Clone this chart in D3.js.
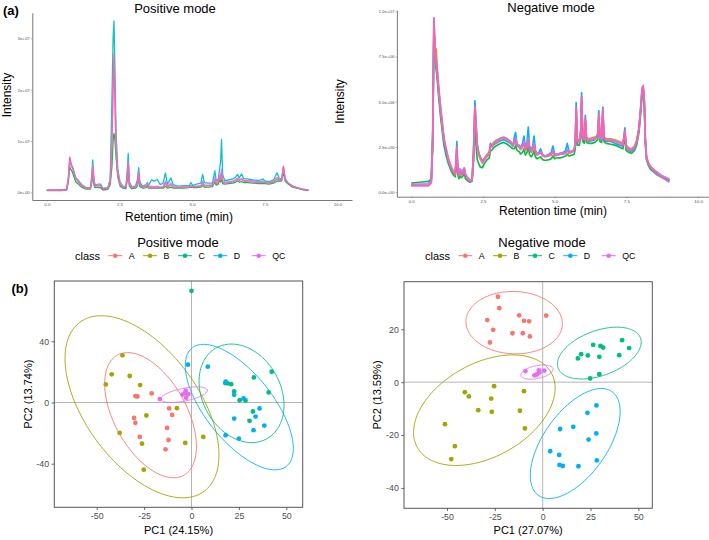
<!DOCTYPE html>
<html><head><meta charset="utf-8">
<script src="https://cdn.jsdelivr.net/npm/d3@7"></script>
<style>body{margin:0;background:#fff}svg{display:block;font-family:"Liberation Sans",Arial,Helvetica,sans-serif}</style>
</head><body><svg id="c" width="709" height="540"></svg>
<script>
// ---------- (a) chromatograms: intensity in units of 1e6 ----------
const posTime = [0,0.5,0.68,0.74,0.79,0.82,0.86,0.9,0.95,1.0,
 1.1,1.2,1.35,1.5,1.55,1.58,1.62,1.66,1.72,1.78,
 1.85,1.92,2.0,2.1,2.18,2.24,2.28,2.31,2.34,2.38,
 2.44,2.52,2.62,2.72,2.77,2.8,2.84,2.92,3.05,3.12,
 3.16,3.2,3.3,3.42,3.46,3.5,3.6,3.7,3.8,3.9,
 4.0,4.08,4.15,4.27,4.35,4.5,4.7,4.9,4.96,5.02,
 5.15,5.3,5.36,5.42,5.55,5.7,5.78,5.83,5.9,5.94,
 5.98,6.01,6.05,6.12,6.25,6.4,6.5,6.56,6.62,6.7,
 6.78,6.9,7.1,7.3,7.44,7.5,7.65,7.8,7.92,8.0,
 8.08,8.14,8.2,8.3,8.45,8.6,8.8,9.0];
const posGreen = [0.35,0.35,0.45,2.0,5.0,4.5,4.2,3.6,2.8,2.0,
 1.5,1.0,0.6,0.6,2.0,3.8,1.4,0.9,1.0,0.9,
 0.9,0.5,0.5,0.6,1.5,5.0,10.0,11.5,10.5,7.0,
 3.0,1.2,0.8,0.7,2.5,4.5,1.2,0.7,0.8,1.2,
 3.0,1.1,0.8,0.9,1.2,0.8,0.8,0.8,0.8,0.8,
 0.8,1.2,0.8,1.0,0.8,0.8,0.8,0.9,1.0,0.9,
 0.9,1.0,1.3,1.0,1.0,1.1,2.0,1.4,1.6,2.4,
 2.0,2.6,1.7,1.6,1.7,1.8,2.0,2.2,2.0,2.1,
 1.9,1.9,1.8,1.7,1.7,1.7,1.6,1.8,2.2,2.2,
 2.2,4.0,2.2,1.6,1.0,0.8,0.5,0.35];
const posCyan = [0.45,0.45,0.6,2.8,6.5,5.5,5.1,4.6,3.6,2.8,
 2.2,1.5,0.9,0.9,3.5,6.3,2.6,1.4,1.5,1.6,
 1.6,0.8,0.8,0.9,2.5,18.0,30.0,33.4,25.0,12.0,
 4.5,2.0,1.2,1.1,4.5,7.6,2.0,1.1,1.2,2.5,
 4.8,2.0,1.2,1.5,1.9,1.3,2.4,2.2,2.5,1.5,
 1.8,3.8,1.6,2.8,1.5,1.2,1.3,1.3,1.9,1.3,
 1.6,1.8,3.5,1.9,1.8,1.8,4.2,2.2,2.6,4.3,
 6.0,10.3,3.5,2.3,2.4,2.6,3.0,3.5,2.8,3.6,
 2.6,2.6,2.4,2.3,2.6,2.2,2.1,2.4,3.8,2.7,
 2.6,4.8,2.5,1.8,1.2,0.9,0.6,0.4];
const posViolet = [0.42,0.42,0.5,2.6,6.5,5.8,5.2,4.8,3.6,2.8,
 2.1,1.4,0.9,0.8,2.8,5.3,2.2,1.3,1.5,1.5,
 1.4,0.7,0.7,0.9,2.2,10.0,20.0,24.0,19.0,9.0,
 3.8,1.7,1.1,1.0,3.5,6.0,1.6,1.0,1.1,1.8,
 4.0,1.6,1.1,1.2,1.7,1.1,1.2,1.1,1.2,1.0,
 1.1,2.2,1.2,1.8,1.1,1.0,1.0,1.1,1.3,1.1,
 1.2,1.3,2.2,1.4,1.4,1.5,3.0,1.8,2.3,3.4,
 3.0,4.5,2.4,2.0,2.1,2.2,2.5,2.8,2.5,2.7,
 2.3,2.3,2.2,2.1,2.2,2.0,1.9,2.2,2.9,2.5,
 2.5,5.0,2.6,1.8,1.2,0.9,0.6,0.4];
const posPink = [0.40,0.40,0.50,2.5,6.9,6.0,5.0,4.6,3.4,2.6,
 1.9,1.2,0.8,0.8,2.5,5.0,2.0,1.2,1.4,1.2,
 1.3,0.7,0.7,0.8,2.0,9.0,22.0,27.0,20.0,9.0,
 3.5,1.5,1.0,0.9,3.0,5.6,1.5,0.9,1.0,1.5,
 3.8,1.5,1.0,1.1,1.6,1.0,0.9,0.9,0.9,0.9,
 1.0,1.8,1.0,1.5,1.0,0.9,1.0,1.0,1.2,1.0,
 1.1,1.2,1.8,1.2,1.3,1.3,2.5,1.6,2.0,3.0,
 2.5,3.7,2.0,1.8,1.9,2.0,2.3,2.6,2.3,2.5,
 2.2,2.1,2.0,1.9,2.0,1.9,1.8,2.0,2.6,2.4,
 2.4,5.1,2.6,1.8,1.2,0.9,0.6,0.4];

const negTime = [0,0.3,0.6,0.7,0.75,0.79,0.83,0.87,0.91,0.96,
 1.02,1.08,1.14,1.22,1.29,1.37,1.45,1.53,1.57,1.59,
 1.62,1.66,1.70,1.74,1.78,1.85,1.89,1.95,2.05,2.12,
 2.17,2.22,2.26,2.30,2.35,2.40,2.48,2.56,2.65,2.72,
 2.76,2.80,2.9,3.0,3.12,3.23,3.35,3.46,3.55,3.60,
 3.64,3.69,3.76,3.81,3.88,3.93,3.98,4.04,4.08,4.12,
 4.18,4.24,4.28,4.33,4.38,4.45,4.51,4.58,4.68,4.80,
 4.88,4.94,5.0,5.1,5.21,5.3,5.38,5.44,5.5,5.6,
 5.68,5.72,5.75,5.79,5.86,5.91,5.94,5.98,6.03,6.07,
 6.11,6.2,6.3,6.4,6.5,6.54,6.58,6.64,6.68,6.72,
 6.8,6.95,7.1,7.25,7.38,7.42,7.45,7.49,7.58,7.68,
 7.78,7.86,7.94,8.0,8.05,8.09,8.13,8.16,8.2,8.26,
 8.35,8.47,8.58,8.7,8.81,8.9,9.0];
const negOrange = [0.4,0.4,0.45,0.6,3.0,9.0,8.0,7.9,6.8,5.8,
 4.8,3.9,3.0,2.3,1.9,1.5,1.2,1.0,1.7,2.4,
 1.2,0.9,1.1,1.0,1.0,1.2,0.9,0.8,0.6,0.65,
 1.9,4.4,3.4,2.6,2.2,2.0,1.7,1.9,2.1,2.2,
 2.6,2.6,2.8,2.9,3.0,3.05,2.95,2.8,2.65,2.7,
 2.9,2.6,2.55,2.4,2.5,2.7,2.35,2.5,2.9,2.4,
 2.25,2.4,2.6,2.2,2.1,2.15,2.2,2.05,2.0,2.05,
 2.1,2.25,2.05,2.1,2.15,2.15,2.2,2.3,2.2,2.25,
 2.35,2.6,4.5,2.85,2.85,3.2,5.0,3.0,3.0,3.9,
 3.0,2.95,3.0,3.05,3.1,4.2,3.05,3.0,4.4,3.05,
 2.95,2.95,2.9,2.8,2.7,3.0,3.3,2.6,2.45,2.4,
 2.55,2.85,3.5,4.5,5.6,5.7,4.9,3.0,2.0,1.65,
 1.4,1.2,1.05,0.9,0.8,0.75,0.65];
const negGreen = [0.5,0.55,0.6,0.7,2.5,8.8,7.6,6.8,6.2,5.2,
 4.2,3.4,2.6,2.0,1.6,1.25,1.0,0.85,1.5,2.0,
 1.0,0.75,0.9,0.8,0.85,1.0,0.75,0.65,0.55,0.6,
 1.6,3.8,2.6,1.8,1.6,1.4,1.35,1.6,1.8,1.9,
 2.3,2.3,2.5,2.6,2.7,2.75,2.65,2.5,2.4,2.4,
 2.6,2.3,2.25,2.1,2.2,2.4,2.05,2.2,2.6,2.1,
 1.95,2.1,2.3,1.95,1.85,1.9,1.95,1.8,1.75,1.8,
 1.85,2.0,1.85,1.9,1.9,1.95,2.0,2.1,2.0,2.05,
 2.1,2.4,4.2,2.6,2.6,3.0,4.8,2.8,2.7,3.8,
 2.75,2.7,2.7,2.75,2.9,4.0,2.8,2.75,4.2,2.8,
 2.7,2.65,2.6,2.5,2.4,2.8,3.1,2.3,2.2,2.15,
 2.3,2.6,3.3,4.4,5.4,5.5,4.7,2.8,1.8,1.5,
 1.25,1.1,0.95,0.85,0.75,0.7,0.6];
const negBlue = [0.4,0.4,0.42,0.8,3.5,9.6,7.5,7.0,6.3,5.4,
 4.5,3.6,2.9,2.2,1.8,1.4,1.15,1.0,2.0,2.8,
 1.4,1.0,1.25,1.0,1.1,1.34,1.0,0.8,0.65,0.7,
 2.2,5.05,3.9,2.7,2.2,1.9,1.7,1.85,2.0,2.1,
 2.7,2.5,2.65,2.75,2.85,2.9,2.8,2.7,2.55,3.1,
 3.3,2.6,2.6,2.45,2.7,3.1,2.4,2.8,3.6,2.6,
 2.3,2.6,3.1,2.35,2.1,2.2,2.4,2.05,2.0,2.1,
 2.2,2.55,2.1,2.1,2.15,2.2,2.3,2.7,2.25,2.25,
 2.35,2.8,4.95,2.9,2.8,3.5,5.5,3.0,2.95,4.25,
 2.9,2.8,2.85,2.9,3.2,4.5,2.95,2.9,4.7,2.9,
 2.8,2.8,2.7,2.6,2.55,3.2,3.55,2.5,2.3,2.25,
 2.4,2.75,3.6,4.7,5.7,5.6,4.6,2.8,1.9,1.6,
 1.4,1.2,1.1,0.95,0.85,0.8,0.7];
const negViolet = [0.45,0.45,0.45,0.6,3.0,9.3,7.8,7.3,6.6,5.6,
 4.7,3.8,3.0,2.4,1.9,1.5,1.2,1.0,1.8,2.5,
 1.3,1.0,1.3,1.2,1.2,1.35,1.0,0.85,0.65,0.7,
 2.0,4.6,3.5,2.5,2.1,1.9,1.65,1.85,2.05,2.15,
 2.6,2.5,2.75,2.85,3.0,3.0,2.95,2.8,2.65,2.8,
 3.0,2.6,2.55,2.4,2.55,2.8,2.35,2.6,3.0,2.45,
 2.25,2.45,2.7,2.25,2.1,2.15,2.25,2.05,2.0,2.05,
 2.1,2.3,2.05,2.1,2.15,2.15,2.2,2.35,2.2,2.25,
 2.35,2.6,4.6,2.85,2.8,3.3,5.2,3.0,2.95,4.0,
 2.95,2.9,2.95,3.0,3.1,4.3,3.0,2.95,4.5,3.0,
 2.9,2.9,2.85,2.75,2.65,3.0,3.35,2.55,2.4,2.35,
 2.5,2.85,3.5,4.6,5.7,5.8,5.0,3.0,2.0,1.65,
 1.4,1.25,1.1,0.95,0.85,0.8,0.7];
const negPink = [0.35,0.35,0.35,0.5,3.0,9.65,8.0,7.2,6.5,5.6,
 4.6,3.7,2.9,2.3,1.8,1.4,1.15,0.95,1.8,2.5,
 1.2,0.9,1.15,0.95,1.0,1.25,0.9,0.75,0.6,0.65,
 2.0,4.75,3.6,2.6,2.1,1.85,1.6,1.8,2.0,2.1,
 2.6,2.5,2.7,2.8,2.95,3.0,2.9,2.75,2.6,2.7,
 2.9,2.55,2.5,2.35,2.5,2.7,2.3,2.5,2.9,2.4,
 2.2,2.4,2.65,2.2,2.05,2.1,2.2,2.0,1.95,2.0,
 2.05,2.25,2.0,2.05,2.1,2.1,2.15,2.3,2.15,2.2,
 2.3,2.6,4.7,2.8,2.75,3.2,5.3,3.0,2.9,4.1,
 2.9,2.85,2.9,2.95,3.1,4.3,3.0,2.9,4.6,3.0,
 2.85,2.85,2.8,2.7,2.6,3.0,3.4,2.5,2.35,2.3,
 2.45,2.8,3.5,4.6,5.8,5.9,5.0,3.0,1.9,1.6,
 1.35,1.15,1.0,0.85,0.75,0.65,0.55];

const rtTicks = [0, 2.5, 5, 7.5, 10];
const rtTickLabels = ["0.0", "2.5", "5.0", "7.5", "10.0"];
const posIntTicks = [0, 10, 20, 30];
const posIntTickLabels = ["0e+00", "1e+07", "2e+07", "3e+07"];
const negIntTicks = [0, 2.5, 5, 7.5, 10];
const negIntTickLabels = ["0.0e+00", "2.5e+06", "5.0e+06", "7.5e+06", "1.0e+07"];

// ---------- (b) PCA scores ----------
const classes = ["A", "B", "C", "D", "QC"];
const classColors = ["#F8766D", "#A3A500", "#00BF7D", "#00B0F6", "#E76BF3"];

const posA = [[-21.0,5.9],[-29.6,4.2],[-28.5,3.9],[-11.8,-3.9],[-10.2,-8.1],[-30.3,-10.1],[-29.6,-13.3],[-12.9,-16.6],[-27.3,-22.5],[-12.1,-24.5],[-13.7,-30.6]];
const posB = [[-36.4,30.8],[-42.1,18.4],[-32.6,17.3],[-45.2,11.8],[-27.1,11.4],[-7.7,-3.7],[-23.8,-8.5],[-37.9,-19.9],[-26.1,-26.9],[-3.3,-26.4],[6.2,-22.5],[-25.2,-43.9]];
const posC = [[0,73.0],[42.3,20.1],[32.9,16.4],[40.7,6.6],[17.8,12.7],[19.0,12.5],[20.9,12.0],[22.5,7.2],[25.4,1.5],[28.5,1.3],[32.4,-5.9],[30.6,-12.0]];
const posD = [[-1.9,24.7],[8.6,23.4],[18.1,13.6],[22.5,5.0],[27.5,2.6],[35.9,-3.9],[33.8,-9.2],[22.5,-10.5],[38.4,-15.1],[32.7,-18.1],[18.0,-21.4],[25.0,-23.6]];
const posQC = [[-16.7,2.2],[-4.8,5.2],[-3.0,7.7],[-1.6,5.5],[-2.8,3.1],[-3.5,6.0]];

const negA = [[-23.4,32.3],[-22.7,28.0],[-29.0,23.5],[-12.3,25.3],[-9.8,23.2],[-7.1,23.0],[1.8,25.2],[-25.9,19.8],[-15.8,18.5],[-10.4,18.5],[-6.7,17.3],[-27.6,15.0]];
const negB = [[-25.4,-1.5],[-40.7,-3.8],[-38.6,-5.4],[-26.9,-6.2],[-9.8,-3.4],[-33.7,-10.6],[-26.6,-11.2],[-11.9,-10.8],[-9.3,-17.5],[-51.1,-15.9],[-45.9,-24.2],[-47.8,-29.1]];
const negC = [[41.5,15.9],[45.2,12.9],[26.4,14.1],[30.2,13.7],[31.6,13.1],[20.1,10.6],[23.6,10.1],[18.4,9.0],[29.6,9.6],[40.0,10.2],[24.8,1.4],[29.6,3.0]];
const negD = [[28.1,-8.8],[23.4,-11.6],[9.1,-17.7],[16.0,-16.9],[28.0,-19.4],[24.0,-21.7],[3.9,-26.1],[8.6,-27.5],[8.8,-31.3],[10.5,-31.7],[18.7,-31.8],[28.3,-29.6]];
const negQC = [[-9.0,4.2],[-2.0,4.5],[0.8,4.4],[-4.3,2.6],[-3.1,2.9],[-1.7,3.7]];

// 95% ellipses per class: centre, half-width, half-height (data units), coupling
const posEll = [[-21.6,-8.3,24.2,40.9,-0.50],[-26.1,-2.8,40.6,59.5,-0.53],[26.4,6.0,22.4,32.2,-0.24],[25.2,-3.0,28.5,41.0,-0.66],[-3.9,5.1,12.3,5.1,0.55]];
const negEll = [[-14.9,22.5,25.2,11.8,-0.03],[-30.5,-10.6,37.0,20.9,0.40],[29.6,11.0,21.9,9.8,0.42],[17.0,-23.2,23.5,20.8,0.58],[-3.0,3.8,8.4,2.7,0.40]];

const pcaXTicks = [-50, -25, 0, 25, 50];
const posYTicks = [-40, 0, 40];
const negYTicks = [-40, -20, 0, 20];

// ---------- drawing ----------
const svg = d3.select('#c');
svg.append('rect').attr('width', 709).attr('height', 540).attr('fill', '#fff');

function chrom(o) {
  const g = svg.append('g');
  const x = d3.scaleLinear().domain([-0.5, 10.5]).range(o.xr);
  const y = d3.scaleLinear().domain(o.yd).range(o.yr);
  const line = d3.line().x(d => x(d[0])).y(d => y(d[1]));
  o.series.forEach(s => {
    g.append('path').datum(o.time.map((t, i) => [t, s.v[i]]))
      .attr('d', line).attr('fill', 'none').attr('stroke', s.c)
      .attr('stroke-width', o.sw).attr('stroke-linejoin', 'round').attr('stroke-opacity', 0.95);
  });
  const xa = g.append('g').attr('transform', `translate(0,${o.yr[0]})`)
    .call(d3.axisBottom(x).tickValues(rtTicks).tickFormat((d, i) => rtTickLabels[i]).tickSizeInner(1.5).tickSizeOuter(0).tickPadding(1.5));
  const ya = g.append('g').attr('transform', `translate(${o.xr[0]},0)`)
    .call(d3.axisLeft(y).tickValues(o.yt).tickFormat((d, i) => o.ytl[i]).tickSizeInner(1.5).tickSizeOuter(0).tickPadding(1));
  [xa, ya].forEach(a => {
    a.select('.domain').attr('stroke', '#6b6b6b').attr('stroke-width', 0.9);
    a.selectAll('.tick line').attr('stroke', '#6b6b6b').attr('stroke-width', 0.5);
    a.selectAll('.tick text').attr('font-size', 4.4).attr('fill', '#555').attr('font-family', '"Liberation Sans",Arial,sans-serif');
  });
  g.append('text').attr('x', o.titleX).attr('y', o.titleY).attr('text-anchor', 'middle')
    .attr('font-size', 13).text(o.title);
  g.append('text').attr('x', o.xlabX).attr('y', o.xlabY).attr('text-anchor', 'middle')
    .attr('font-size', 12).text('Retention time (min)');
  g.append('text').attr('transform', `translate(${o.ylabX},${o.ylabY}) rotate(-90)`)
    .attr('text-anchor', 'middle').attr('font-size', 12).text('Intensity');
}

chrom({
  time: posTime, xr: [32.3, 352], yd: [-1.5, 35], yr: [200, 12.7], sw: 1.3,
  yt: posIntTicks, ytl: posIntTickLabels,
  series: [{v: posGreen, c: '#00BA38'}, {v: posCyan, c: '#00BFC4'}, {v: posViolet, c: '#C77CFF'}, {v: posPink, c: '#FF62A8'}],
  title: 'Positive mode', titleX: 175, titleY: 12.5,
  xlabX: 179, xlabY: 220.5, ylabX: 10.8, ylabY: 95
});
chrom({
  time: negTime, xr: [396.9, 712.4], yd: [-0.25, 10.07], yr: [196.7, 10], sw: 1.7,
  yt: negIntTicks, ytl: negIntTickLabels,
  series: [{v: negOrange, c: '#D89000'}, {v: negGreen, c: '#00BA38'}, {v: negBlue, c: '#00A9FF'}, {v: negViolet, c: '#C77CFF'}, {v: negPink, c: '#FF62A8'}],
  title: 'Negative mode', titleX: 551, titleY: 11.5,
  xlabX: 553, xlabY: 214.5, ylabX: 344, ylabY: 101.5
});

svg.append('text').attr('x', 3).attr('y', 14.5).attr('font-size', 13).attr('font-weight', 'bold').text('(a)');
svg.append('text').attr('x', 11.5).attr('y', 293).attr('font-size', 13).attr('font-weight', 'bold').text('(b)');

function pca(o) {
  const g = svg.append('g');
  const x = d3.scaleLinear().domain(o.xd).range([o.l, o.r]);
  const y = d3.scaleLinear().domain(o.yd).range([o.b, o.t]);
  // reference lines
  g.append('line').attr('x1', x(0)).attr('x2', x(0)).attr('y1', o.t).attr('y2', o.b)
    .attr('stroke', '#b5b5b5').attr('stroke-width', 1);
  g.append('line').attr('x1', o.l).attr('x2', o.r).attr('y1', y(0)).attr('y2', y(0))
    .attr('stroke', '#b5b5b5').attr('stroke-width', 1);
  // points
  o.groups.forEach((pts, k) => {
    g.selectAll(null).data(pts).enter().append('circle')
      .attr('cx', d => x(d[0])).attr('cy', d => y(d[1])).attr('r', 2.4)
      .attr('fill', classColors[k]);
  });
  // ellipses
  const ts = d3.range(0, 2 * Math.PI + 0.001, Math.PI / 90);
  o.ell.forEach((e, k) => {
    const [cx, cy, w, h, c] = e;
    const phi = Math.acos(c);
    const line = d3.line().x(t => x(cx + w * Math.cos(t))).y(t => y(cy + h * Math.cos(t - phi)));
    g.append('path').attr('d', line(ts)).attr('fill', 'none')
      .attr('stroke', classColors[k]).attr('stroke-width', 0.9);
  });
  // border
  g.append('rect').attr('x', o.l).attr('y', o.t).attr('width', o.r - o.l).attr('height', o.b - o.t)
    .attr('fill', 'none').attr('stroke', '#555').attr('stroke-width', 1);
  const xa = g.append('g').attr('transform', `translate(0,${o.b})`)
    .call(d3.axisBottom(x).tickValues(pcaXTicks).tickFormat(d => String(d)).tickSizeInner(2.7).tickSizeOuter(0).tickPadding(2.5));
  const ya = g.append('g').attr('transform', `translate(${o.l},0)`)
    .call(d3.axisLeft(y).tickValues(o.yt).tickFormat(d => String(d)).tickSizeInner(2.7).tickSizeOuter(0).tickPadding(2.5));
  [xa, ya].forEach(a => {
    a.select('.domain').remove();
    a.selectAll('.tick line').attr('stroke', '#444').attr('stroke-width', 0.8);
    a.selectAll('.tick text').attr('font-size', 8.8).attr('fill', '#4d4d4d').attr('font-family', '"Liberation Sans",Arial,sans-serif');
  });
  g.append('text').attr('x', (o.l + o.r) / 2).attr('y', 533.5).attr('text-anchor', 'middle')
    .attr('font-size', 11).text(o.xlab);
  g.append('text').attr('transform', `translate(${o.ylabX},${(o.t + o.b) / 2}) rotate(-90)`)
    .attr('text-anchor', 'middle').attr('font-size', 11).text(o.ylab);
  // title + legend
  g.append('text').attr('x', o.titleX).attr('y', 247.3).attr('text-anchor', 'middle')
    .attr('font-size', 13).text(o.title);
  const ly = 255.7;
  g.append('text').attr('x', o.legX).attr('y', ly + 3.8).attr('font-size', 11).text('class');
  const offs = [40.3, 75, 110, 145.3, 183.7];
  classes.forEach((cl, k) => {
    const kx = o.legX + offs[k];
    g.append('line').attr('x1', kx - 7).attr('x2', kx + 7).attr('y1', ly).attr('y2', ly)
      .attr('stroke', classColors[k]).attr('stroke-width', 1);
    g.append('circle').attr('cx', kx).attr('cy', ly).attr('r', 2.3).attr('fill', classColors[k]);
    g.append('text').attr('x', kx + 13.5).attr('y', ly + 3.2).attr('font-size', 8.8).text(cl);
  });
}

pca({
  l: 54.3, r: 302.7, t: 281, b: 507.3, xd: [-72.36, 58.65], yd: [-68.5, 79.4],
  yt: posYTicks, groups: [posA, posB, posC, posD, posQC], ell: posEll,
  xlab: 'PC1 (24.15%)', ylab: 'PC2 (13.74%)', ylabX: 31.5,
  title: 'Positive mode', titleX: 178, legX: 75
});
pca({
  l: 404, r: 652.3, t: 281.7, b: 508.3, xd: [-72.5, 57.3], yd: [-47.7, 38.0],
  yt: negYTicks, groups: [negA, negB, negC, negD, negQC], ell: negEll,
  xlab: 'PC1 (27.07%)', ylab: 'PC2 (13.59%)', ylabX: 380.5,
  title: 'Negative mode', titleX: 542, legX: 425
});
</script></body></html>
